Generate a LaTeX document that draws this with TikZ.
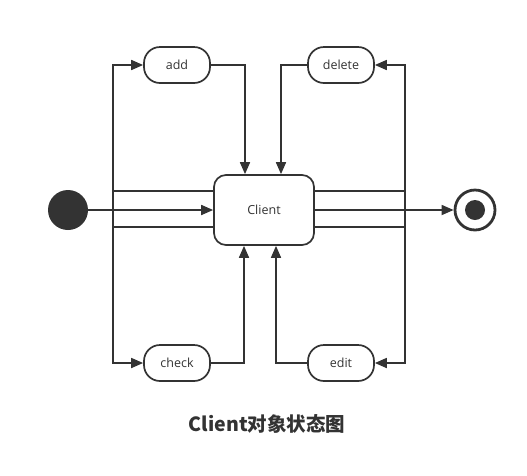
\documentclass[tikz,border=0pt]{standalone}
\usepackage{fontspec}
\setmainfont{Open Sans}
\newfontfamily\cjk{Noto Sans CJK SC}
\usepackage{tikz}
\usetikzlibrary{arrows.meta}
\usetikzlibrary{calc}
\usetikzlibrary{positioning}
\definecolor{linegray}{HTML}{333333}
\tikzstyle{state} = [draw=linegray, text=linegray, line width=1.7pt, rounded corners=12pt,
    minimum height=70pt, minimum width=100pt, font=\fontsize{12.5}{14}\selectfont]
\tikzstyle{action} = [draw=linegray, text=linegray, line width=1.7pt, rounded corners=16pt,
    minimum height=36pt, minimum width=66pt, font=\fontsize{12.5}{14}\selectfont]
\tikzstyle{startstate} = [circle, fill=linegray, minimum size=40pt, inner sep=0pt]
\tikzstyle{endstate} = [circle, draw=linegray, line width=2.8pt, minimum size=40pt, inner sep=0pt]
\tikzstyle{trans} = [draw=linegray, line width=1.7pt, -{Triangle[length=12pt,width=10pt]}]

\begin{document}
\begin{tikzpicture}[x=1pt, y=-1pt]
    \useasboundingbox (0,0) rectangle (527,475);
    \node [state] (client) at (264,210) {Client};
    \node [startstate] (start) at (68,210) {};
    \node [endstate] (end) at (475,210) {};
    \node [circle, fill=linegray, minimum size=20pt, inner sep=0pt] (endin) at (end) {};
    \node [action] (add) at (177,65) {add};
    \node [action] (delete) at (341,65) {delete};
    \node [action] (check) at (177,363) {check};
    \node [action] (edit) at (341,363) {edit};
    \node [text=linegray, font=\cjk\bfseries\fontsize{19.5}{22}\selectfont] (title) at (267,424) {Client对象状态图};

    \draw [trans] (start) -- (client);
    \draw [trans] (client) -- (end);
    % top loops
    \draw [trans] ([yshift=-17pt]client.west) -| ([xshift=-30pt]add.west) -- (add.west);
    \draw [trans] (add.east) -| ([xshift=-19pt]client.north);
    \draw [trans] (delete.west) -| ([xshift=17pt]client.north);
    \draw [trans] ([yshift=-17pt]client.east) -| ([xshift=30pt]delete.east) -- (delete.east);
    % bottom loops
    \draw [trans] ([yshift=19pt]client.west) -| ([xshift=-30pt]check.west) -- (check.west);
    \draw [trans] (check.east) -| ([xshift=-20pt]client.south);
    \draw [trans] (edit.west) -| ([xshift=12pt]client.south);
    \draw [trans] ([yshift=19pt]client.east) -| ([xshift=30pt]edit.east) -- (edit.east);
\end{tikzpicture}
\end{document}
